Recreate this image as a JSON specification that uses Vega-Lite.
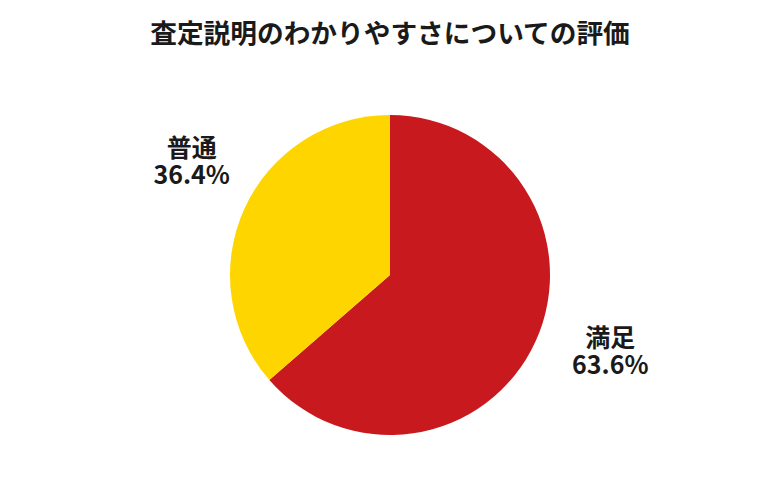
{
  "$schema": "https://vega.github.io/schema/vega-lite/v6.json",
  "width": 780,
  "height": 430,
  "autosize": {"type": "none"},
  "padding": {"top": 60, "left": 0, "right": 0, "bottom": 10},
  "background": "white",
  "title": {
    "text": "査定説明のわかりやすさについての評価",
    "anchor": "middle",
    "frame": "group",
    "font": "Noto Sans CJK JP",
    "fontSize": 26.7,
    "fontWeight": "bold",
    "color": "#1a1a1a",
    "offset": 11
  },
  "data": {
    "values": [
      {"category": "満足", "value": 63.6, "label": "満足\n63.6%"},
      {"category": "普通", "value": 36.4, "label": "普通\n36.4%"}
    ]
  },
  "encoding": {
    "theta": {"field": "value", "type": "quantitative", "stack": true},
    "order": {"field": "value", "sort": "descending"},
    "color": {
      "field": "category",
      "type": "nominal",
      "scale": {"domain": ["満足", "普通"], "range": ["#C8191F", "#FFD500"]},
      "legend": null
    }
  },
  "layer": [
    {"mark": {"type": "arc", "outerRadius": 160, "stroke": null}},
    {
      "mark": {
        "type": "text",
        "radius": 230,
        "dx": 11,
        "dy": -31,
        "font": "Noto Sans CJK JP",
        "fontSize": 25,
        "fontWeight": "bold",
        "lineBreak": "\n",
        "lineHeight": 27,
        "align": "center",
        "baseline": "middle",
        "color": "#1a1a1a"
      },
      "encoding": {
        "text": {"field": "label", "type": "nominal"},
        "color": {"value": "#1a1a1a"}
      }
    }
  ]
}
